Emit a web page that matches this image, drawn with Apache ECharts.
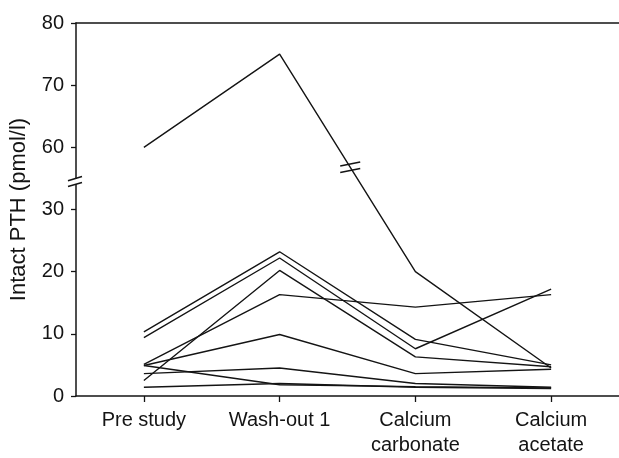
<!DOCTYPE html>
<html>
<head>
<meta charset="utf-8">
<script src="https://cdn.jsdelivr.net/npm/echarts@6/dist/echarts.min.js"></script>
<style>
  html, body { margin: 0; padding: 0; background: #fff; }
  #chart { width: 619px; height: 458px; }
</style>
</head>
<body>
<div id="chart"></div>
<script>
// ---- Data ----
const categories = ['Pre study', 'Wash-out 1', 'Calcium\ncarbonate', 'Calcium\nacetate'];
const patient1 = [60, 75, 20, 4.5];
const patient2 = [10.3, 23.2, 9.1, 5.0];
const patient3 = [9.4, 22.2, 7.6, 17.2];
const patient4 = [2.5, 20.2, 6.3, 4.7];
const patient5 = [5.1, 16.3, 14.3, 16.3];
const patient6 = [4.9, 9.9, 3.6, 4.3];
const patient7 = [4.9, 1.8, 1.5, 1.3];
const patient8 = [3.6, 4.5, 2.0, 1.4];
const patient9 = [1.4, 2.0, 1.4, 1.2];
const yTickLabels = [0, 10, 20, 30, 60, 70, 80];

// Broken axis: 30..60 is removed (values above 30 are shifted down by 20)
const BREAK_LOW = 30, BREAK_HIGH = 60, BREAK_SHIFT = BREAK_HIGH - BREAK_LOW - 10;
function toAxis(v) { return v > BREAK_LOW ? v - BREAK_SHIFT : v; }
function fromAxis(v) { return v > BREAK_LOW ? v + BREAK_SHIFT : v; }

const allPatients = [patient1, patient2, patient3, patient4, patient5, patient6, patient7, patient8, patient9];

const FONT = "'Liberation Sans', Arial, Helvetica, sans-serif";
const INK = '#141414';

const chart = echarts.init(document.getElementById('chart'), null, { renderer: 'canvas' });

chart.setOption({
  animation: false,
  backgroundColor: '#ffffff',
  grid: { left: 75, top: 23, width: 552, height: 376, containLabel: false },
  xAxis: [{
    type: 'category',
    data: categories,
    boundaryGap: true,
    axisLine: { show: true, lineStyle: { color: INK, width: 1.5 } },
    axisTick: { show: true, alignWithLabel: true, length: 6, lineStyle: { color: INK, width: 1.3 } },
    axisLabel: { color: INK, fontFamily: FONT, fontSize: 20, margin: 12, lineHeight: 25 },
    splitLine: { show: false }
  }, {
    type: 'category',
    data: categories,
    position: 'top',
    axisLine: { show: true, lineStyle: { color: INK, width: 1.5 } },
    axisTick: { show: false },
    axisLabel: { show: false },
    splitLine: { show: false }
  }],
  yAxis: {
    type: 'value',
    min: 0,
    max: 60,
    interval: 10,
    name: 'Intact PTH (pmol/l)',
    nameLocation: 'middle',
    nameGap: 46,
    nameTextStyle: { color: INK, fontFamily: FONT, fontSize: 22 },
    axisLine: { show: true, lineStyle: { color: INK, width: 1.5 } },
    axisTick: { show: true, length: 5, lineStyle: { color: INK, width: 1.3 } },
    axisLabel: {
      color: INK, fontFamily: FONT, fontSize: 20, margin: 12,
      formatter: function (v) { return String(fromAxis(v)); }
    },
    splitLine: { show: false }
  },
  series: allPatients.map(function (arr, i) {
    return {
      name: 'Patient ' + (i + 1),
      type: 'line',
      data: arr.map(toAxis),
      symbol: 'none',
      silent: true,
      lineStyle: { color: INK, width: 1.4 },
      z: 3
    };
  })
});

// ---- Break marks, positioned through the chart's own scales ----
function px(cat, val) { return chart.convertToPixel({ seriesIndex: 0 }, [cat, val]); }

const axisBreakVal = 34.5; // between 30 and the shifted 60 on the axis
const axisPt = px(0, axisBreakVal);
const ax = 75, ay = axisPt[1];

// break on the steep line (patient 1) between Wash-out 1 and Calcium carbonate
const a = px(1, toAxis(patient1[1]));
const b = px(2, toAxis(patient1[2]));
const f = 0.52;
const lx = a[0] + (b[0] - a[0]) * f;
const ly = a[1] + (b[1] - a[1]) * f;

chart.setOption({
  graphic: [
    { type: 'rect', shape: { x: ax - 3, y: ay - 2.5, width: 6, height: 5 }, style: { fill: '#fff' }, z: 100 },
    { type: 'line', shape: { x1: ax - 7, y1: ay - 0.7, x2: ax + 7, y2: ay - 5 }, style: { stroke: INK, lineWidth: 1.5 }, z: 101 },
    { type: 'line', shape: { x1: ax - 7, y1: ay + 5, x2: ax + 7, y2: ay + 0.9 }, style: { stroke: INK, lineWidth: 1.5 }, z: 101 },
    { type: 'line', shape: { x1: lx - 10, y1: ly - 1.3, x2: lx + 10, y2: ly - 5.3 }, style: { stroke: INK, lineWidth: 1.6 }, z: 101 },
    { type: 'line', shape: { x1: lx - 10, y1: ly + 5.3, x2: lx + 10, y2: ly + 1.3 }, style: { stroke: INK, lineWidth: 1.6 }, z: 101 }
  ]
});
</script>
</body>
</html>
